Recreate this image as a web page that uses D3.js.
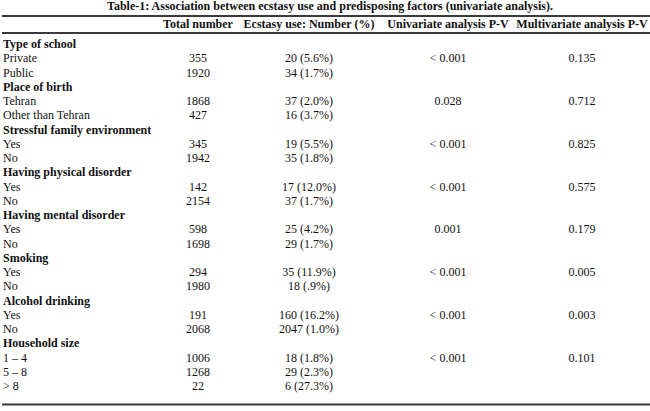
<!DOCTYPE html>
<html>
<head>
<meta charset="utf-8">
<script src="https://cdn.jsdelivr.net/npm/d3@7"></script>
<style>
  body { margin: 0; background: #fff; }
  svg { display: block; }
  text { font-family: "Liberation Serif", "Times New Roman", serif; fill: #111; }
</style>
</head>
<body>
<svg id="chart" width="650" height="411"></svg>
<script>
// table contents
var title = "Table-1: Association between ecstasy use and predisposing factors (univariate analysis).";
var headers = ["", "Total number", "Ecstasy use: Number (%)", "Univariate analysis P-V", "Multivariate analysis P-V"];

var groups = ["Type of school", "Place of birth", "Stressful family environment", "Having physical disorder",
              "Having mental disorder", "Smoking", "Alcohol drinking", "Household size"];
var levels = [["Private", "Public"], ["Tehran", "Other than Tehran"], ["Yes", "No"], ["Yes", "No"],
              ["Yes", "No"], ["Yes", "No"], ["Yes", "No"], ["1 \u2013 4", "5 \u2013 8", "> 8"]];
var totals = [[355, 1920], [1868, 427], [345, 1942], [142, 2154], [598, 1698], [294, 1980], [191, 2068], [1006, 1268, 22]];
var ecstasy = [["20 (5.6%)", "34 (1.7%)"], ["37 (2.0%)", "16 (3.7%)"], ["19 (5.5%)", "35 (1.8%)"],
               ["17 (12.0%)", "37 (1.7%)"], ["25 (4.2%)", "29 (1.7%)"], ["35 (11.9%)", "18 (.9%)"],
               ["160 (16.2%)", "2047 (1.0%)"], ["18 (1.8%)", "29 (2.3%)", "6 (27.3%)"]];
var univariate = ["< 0.001", "0.028", "< 0.001", "< 0.001", "0.001", "< 0.001", "< 0.001", "< 0.001"];
var multivariate = ["0.135", "0.712", "0.825", "0.575", "0.179", "0.005", "0.003", "0.101"];

// flatten into table rows
var rows = [];
groups.forEach(function(g, gi){
    rows.push({ label: g, bold: true, cells: ["", "", "", ""] });
    levels[gi].forEach(function(l, li){
        rows.push({
            label: l, bold: false,
            cells: [totals[gi][li], ecstasy[gi][li], li === 0 ? univariate[gi] : "", li === 0 ? multivariate[gi] : ""]
        });
    });
});

var svg = d3.select("#chart");
var width = +svg.attr("width");

var y = d3.scalePoint()
    .domain(d3.range(rows.length))
    .range([48, 390]);

var colX = d3.scaleOrdinal()
    .domain([1, 2, 3, 4])
    .range([198, 309, 448, 582]);

// title
svg.append("text")
    .attr("x", 330).attr("y", 10)
    .attr("text-anchor", "middle")
    .style("font-weight", "bold")
    .style("font-size", "12px")
    .text(title);

// rules
[16, 33, 404.5].forEach(function(ly){
    svg.append("line")
        .attr("x1", 2).attr("x2", width)
        .attr("y1", ly).attr("y2", ly)
        .attr("stroke", "#3a3a3a")
        .attr("stroke-width", 2);
});

// header
svg.selectAll("text.head")
    .data(headers.slice(1))
    .enter().append("text")
    .attr("class", "head")
    .attr("x", function(d, i){ return colX(i + 1); })
    .attr("y", 28)
    .attr("text-anchor", "middle")
    .style("font-weight", "bold")
    .style("font-size", "12px")
    .text(function(d){ return d; });

// body rows
var row = svg.selectAll("g.row")
    .data(rows)
    .enter().append("g")
    .attr("class", "row")
    .attr("transform", function(d, i){ return "translate(0," + y(i) + ")"; });

row.append("text")
    .attr("x", 3)
    .style("font-weight", function(d){ return d.bold ? "bold" : "normal"; })
    .style("font-size", "12px")
    .text(function(d){ return d.label; });

row.selectAll("text.cell")
    .data(function(d){ return d.cells; })
    .enter().append("text")
    .attr("class", "cell")
    .attr("x", function(d, i){ return colX(i + 1); })
    .attr("text-anchor", "middle")
    .style("font-size", "12px")
    .text(function(d){ return d; });
</script>
</body>
</html>
